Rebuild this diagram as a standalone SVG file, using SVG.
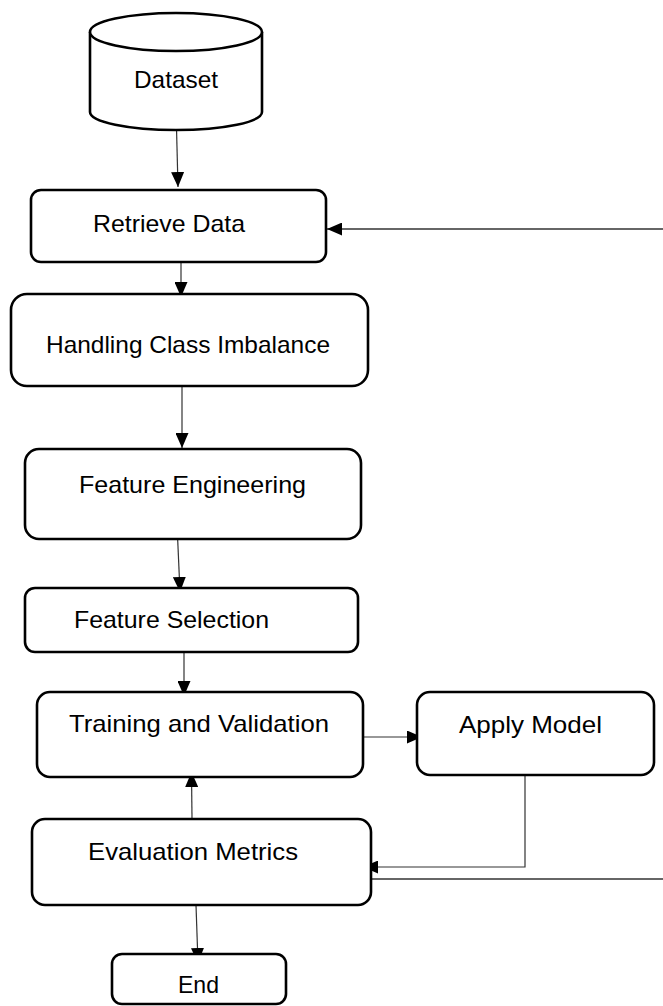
<svg xmlns="http://www.w3.org/2000/svg" width="663" height="1006" viewBox="0 0 663 1006">
<style>
.box{fill:#fff;stroke:#000;stroke-width:2.6}
.lbl{font-family:"Liberation Sans",Arial,sans-serif;font-size:24px;fill:#000}
.con{fill:none;stroke:#333;stroke-width:1.2}
.con2{fill:none;stroke:#666;stroke-width:1.8}
</style>
<defs>
<marker id="ah" markerUnits="userSpaceOnUse" markerWidth="15" markerHeight="13" refX="15" refY="6.5" orient="auto">
<path d="M0,0 L15,6.5 L0,13 Z" fill="#000"/>
</marker>
</defs>
<rect width="663" height="1006" fill="#fff"/>
<g id="connectors">
<line class="con" x1="176.5" y1="128" x2="178" y2="187" marker-end="url(#ah)"/>
<line class="con" x1="181" y1="258" x2="181" y2="297" marker-end="url(#ah)"/>
<line class="con" x1="182" y1="386" x2="182" y2="448" marker-end="url(#ah)"/>
<line class="con" x1="177.7" y1="540" x2="180" y2="592" marker-end="url(#ah)"/>
<line class="con" x1="184" y1="652" x2="184" y2="696" marker-end="url(#ah)"/>
<line class="con" x1="192" y1="819" x2="191.5" y2="772" marker-end="url(#ah)"/>
<line class="con" x1="363" y1="737" x2="422" y2="737" marker-end="url(#ah)"/>
<polyline class="con" points="525,775 525,867 363,867" marker-end="url(#ah)"/>
<line class="con2" x1="371" y1="879" x2="663" y2="879"/>
<line class="con2" x1="663" y1="229" x2="327" y2="229" marker-end="url(#ah)"/>
<line class="con" x1="196" y1="905" x2="198" y2="963" marker-end="url(#ah)"/>
</g>
<g id="dataset">
<path class="box" d="M90,32 V112 A86,18 0 0,0 262,112 V32"/>
<ellipse class="box" cx="176" cy="32" rx="86" ry="19"/>
<text class="lbl" x="176" y="88" text-anchor="middle" textLength="84" lengthAdjust="spacingAndGlyphs">Dataset</text>
</g>
<g id="retrieve">
<rect class="box" x="31" y="190" width="295" height="72" rx="10"/>
<text class="lbl" x="93" y="232" textLength="152" lengthAdjust="spacingAndGlyphs">Retrieve Data</text>
</g>
<g id="imbalance">
<rect class="box" x="11" y="294" width="357" height="92" rx="16"/>
<text class="lbl" x="46" y="353" textLength="284" lengthAdjust="spacingAndGlyphs">Handling Class Imbalance</text>
</g>
<g id="feature-eng">
<rect class="box" x="25" y="449" width="336" height="90" rx="14"/>
<text class="lbl" x="79" y="493" textLength="227" lengthAdjust="spacingAndGlyphs">Feature Engineering</text>
</g>
<g id="feature-sel">
<rect class="box" x="25" y="588" width="333" height="64" rx="10"/>
<text class="lbl" x="74" y="628" textLength="195" lengthAdjust="spacingAndGlyphs">Feature Selection</text>
</g>
<g id="training">
<rect class="box" x="37" y="692" width="326" height="85" rx="13"/>
<text class="lbl" x="69" y="732" textLength="260" lengthAdjust="spacingAndGlyphs">Training and Validation</text>
</g>
<g id="apply">
<rect class="box" x="417" y="692" width="237" height="83" rx="13"/>
<text class="lbl" x="459" y="733" textLength="143" lengthAdjust="spacingAndGlyphs">Apply Model</text>
</g>
<g id="evaluation">
<rect class="box" x="32" y="819" width="339" height="86" rx="13"/>
<text class="lbl" x="88" y="860" textLength="210" lengthAdjust="spacingAndGlyphs">Evaluation Metrics</text>
</g>
<g id="end">
<rect class="box" x="112" y="954" width="174" height="50" rx="10"/>
<text class="lbl" x="178" y="993" textLength="41" lengthAdjust="spacingAndGlyphs">End</text>
</g>
</svg>
